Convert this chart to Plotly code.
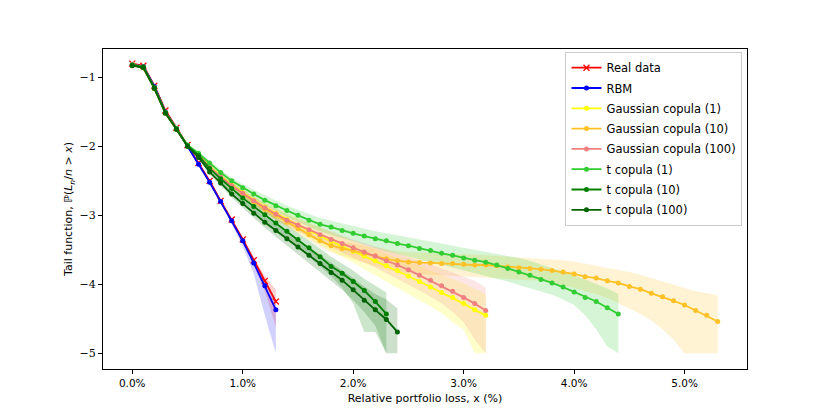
import plotly.graph_objects as go

# x grid values (relative loss in %)
x_real = [0.0, 0.1, 0.2, 0.3, 0.4, 0.5, 0.6, 0.7, 0.8, 0.9, 1.0, 1.1, 1.2, 1.3]
real = [-0.80, -0.83, -1.12, -1.48, -1.73, -1.98, -2.24, -2.50, -2.79, -3.06, -3.35, -3.65, -3.95, -4.25]
real_up = [-0.79, -0.82, -1.11, -1.47, -1.72, -1.97, -2.23, -2.48, -2.77, -3.03, -3.31, -3.60, -3.88, -4.08]
real_lo = [-0.81, -0.84, -1.13, -1.49, -1.74, -1.99, -2.25, -2.52, -2.81, -3.09, -3.40, -3.72, -4.10, -4.62]

rbm = [-0.82, -0.84, -1.13, -1.50, -1.74, -1.99, -2.26, -2.52, -2.80, -3.08, -3.37, -3.69, -4.02, -4.37]
rbm_up = [-0.81, -0.83, -1.12, -1.49, -1.73, -1.98, -2.25, -2.51, -2.78, -3.05, -3.33, -3.64, -3.93, -4.22]
rbm_lo = [-0.83, -0.85, -1.14, -1.51, -1.75, -2.00, -2.27, -2.54, -2.83, -3.12, -3.45, -3.85, -4.45, -5.00]

x_g1 = [round(i * 0.1, 1) for i in range(33)]
g1 = [-0.82, -0.86, -1.16, -1.52, -1.75, -1.99, -2.12, -2.29, -2.43, -2.56, -2.67, -2.78, -2.88, -2.97,
      -3.06, -3.14, -3.22, -3.30, -3.38, -3.45, -3.52, -3.59, -3.66, -3.73, -3.80, -3.88, -3.96, -4.04,
      -4.12, -4.19, -4.28, -4.37, -4.45]
g1_up = [-0.81, -0.85, -1.15, -1.51, -1.74, -1.98, -2.10, -2.26, -2.39, -2.51, -2.62, -2.72, -2.81, -2.89,
         -2.97, -3.04, -3.11, -3.18, -3.25, -3.31, -3.37, -3.43, -3.49, -3.55, -3.61, -3.67, -3.73, -3.80,
         -3.86, -3.92, -3.99, -4.06, -4.14]
g1_lo = [-0.83, -0.87, -1.17, -1.53, -1.76, -2.00, -2.14, -2.32, -2.47, -2.61, -2.73, -2.85, -2.96, -3.06,
         -3.15, -3.24, -3.33, -3.42, -3.51, -3.60, -3.68, -3.77, -3.86, -3.95, -4.04, -4.13, -4.22, -4.32,
         -4.42, -4.55, -4.66, -5.00, -5.00]

x_g10 = [round(i * 0.1, 1) for i in range(54)]
g10 = [-0.82, -0.86, -1.16, -1.52, -1.75, -1.99, -2.13, -2.30, -2.45, -2.57, -2.69, -2.80, -2.91, -3.00,
       -3.10, -3.19, -3.28, -3.37, -3.44, -3.48, -3.51, -3.55, -3.59, -3.63, -3.66, -3.675, -3.685, -3.69,
       -3.70, -3.70, -3.71, -3.72, -3.72, -3.73, -3.75, -3.76, -3.77, -3.78, -3.80, -3.82, -3.85, -3.89,
       -3.91, -3.95, -3.98, -4.03, -4.07, -4.13, -4.18, -4.24, -4.30, -4.38, -4.45, -4.54]
g10_up = [-0.81, -0.85, -1.15, -1.51, -1.74, -1.98, -2.11, -2.27, -2.41, -2.53, -2.64, -2.75, -2.85, -2.94,
          -3.03, -3.12, -3.20, -3.28, -3.34, -3.38, -3.41, -3.44, -3.47, -3.50, -3.52, -3.53, -3.54, -3.55,
          -3.55, -3.56, -3.56, -3.57, -3.57, -3.58, -3.59, -3.60, -3.61, -3.62, -3.63, -3.65, -3.67, -3.70,
          -3.72, -3.75, -3.78, -3.82, -3.86, -3.91, -3.96, -4.01, -4.06, -4.10, -4.13, -4.16]
g10_lo = [-0.83, -0.87, -1.17, -1.53, -1.76, -2.00, -2.15, -2.33, -2.49, -2.62, -2.74, -2.86, -2.97, -3.07,
          -3.16, -3.26, -3.36, -3.46, -3.54, -3.59, -3.63, -3.68, -3.73, -3.78, -3.82, -3.84, -3.85, -3.86,
          -3.87, -3.88, -3.89, -3.90, -3.90, -3.91, -3.92, -3.93, -3.94, -3.95, -3.98, -4.01, -4.05, -4.10,
          -4.14, -4.20, -4.27, -4.35, -4.43, -4.53, -4.65, -4.80, -5.00, -5.00, -5.00, -5.00]

x_g100 = [round(i * 0.1, 1) for i in range(33)]
g100 = [-0.81, -0.85, -1.15, -1.51, -1.74, -1.99, -2.13, -2.30, -2.44, -2.57, -2.68, -2.79, -2.89, -2.98,
        -3.07, -3.14, -3.21, -3.28, -3.35, -3.41, -3.47, -3.53, -3.59, -3.66, -3.72, -3.79, -3.87, -3.94,
        -4.02, -4.10, -4.19, -4.28, -4.38]
g100_up = [-0.80, -0.84, -1.14, -1.50, -1.73, -1.98, -2.11, -2.27, -2.40, -2.52, -2.63, -2.73, -2.83, -2.91,
           -2.99, -3.06, -3.12, -3.18, -3.24, -3.29, -3.35, -3.40, -3.45, -3.50, -3.55, -3.60, -3.66, -3.71,
           -3.77, -3.83, -3.89, -3.95, -4.05]
g100_lo = [-0.82, -0.86, -1.16, -1.52, -1.75, -2.00, -2.15, -2.33, -2.48, -2.62, -2.74, -2.85, -2.96, -3.06,
           -3.15, -3.23, -3.31, -3.39, -3.47, -3.54, -3.61, -3.68, -3.76, -3.84, -3.92, -4.00, -4.09, -4.18,
           -4.28, -4.40, -4.55, -4.80, -5.00]

x_t1 = [round(i * 0.1, 1) for i in range(45)]
t1 = [-0.82, -0.85, -1.15, -1.51, -1.74, -1.98, -2.10, -2.24, -2.38, -2.50, -2.60, -2.69, -2.78, -2.86,
      -2.93, -3.00, -3.07, -3.13, -3.17, -3.22, -3.26, -3.30, -3.34, -3.37, -3.41, -3.44, -3.48, -3.51,
      -3.55, -3.58, -3.62, -3.65, -3.68, -3.72, -3.77, -3.82, -3.87, -3.93, -3.98, -4.04, -4.11, -4.19,
      -4.25, -4.34, -4.43]
t1_up = [-0.81, -0.84, -1.14, -1.50, -1.73, -1.97, -2.08, -2.21, -2.34, -2.45, -2.55, -2.63, -2.71, -2.79,
         -2.86, -2.92, -2.98, -3.04, -3.08, -3.12, -3.16, -3.20, -3.23, -3.26, -3.29, -3.32, -3.35, -3.38,
         -3.41, -3.44, -3.47, -3.50, -3.52, -3.55, -3.58, -3.62, -3.66, -3.71, -3.76, -3.81, -3.87, -3.93,
         -3.99, -4.06, -4.14]
t1_lo = [-0.83, -0.86, -1.16, -1.52, -1.75, -1.99, -2.12, -2.27, -2.42, -2.55, -2.66, -2.76, -2.85, -2.94,
         -3.02, -3.09, -3.16, -3.23, -3.28, -3.33, -3.38, -3.43, -3.48, -3.52, -3.56, -3.60, -3.64, -3.68,
         -3.72, -3.76, -3.80, -3.84, -3.87, -3.91, -3.96, -4.01, -4.06, -4.10, -4.15, -4.22, -4.30, -4.45,
         -4.65, -4.90, -5.00]

x_t10 = [round(i * 0.1, 1) for i in range(24)]
t10 = [-0.82, -0.85, -1.15, -1.51, -1.75, -1.99, -2.13, -2.32, -2.47, -2.61, -2.75, -2.87, -2.99, -3.11,
       -3.23, -3.35, -3.47, -3.60, -3.74, -3.84, -3.96, -4.09, -4.25, -4.43]
t10_up = [-0.81, -0.84, -1.14, -1.50, -1.74, -1.98, -2.11, -2.29, -2.43, -2.56, -2.69, -2.80, -2.92, -3.03,
          -3.14, -3.25, -3.36, -3.48, -3.60, -3.70, -3.80, -3.92, -4.02, -4.12]
t10_lo = [-0.83, -0.86, -1.16, -1.52, -1.76, -2.00, -2.15, -2.35, -2.51, -2.66, -2.81, -2.94, -3.07, -3.20,
          -3.33, -3.46, -3.60, -3.74, -3.88, -4.05, -4.28, -4.69, -4.69, -5.00]

x_t100 = [round(i * 0.1, 1) for i in range(25)]
t100 = [-0.83, -0.86, -1.16, -1.52, -1.75, -2.00, -2.16, -2.37, -2.53, -2.69, -2.83, -2.97, -3.10, -3.22,
        -3.34, -3.46, -3.58, -3.70, -3.83, -3.94, -4.08, -4.23, -4.37, -4.51, -4.69]
t100_up = [-0.82, -0.85, -1.15, -1.51, -1.74, -1.99, -2.14, -2.34, -2.49, -2.64, -2.77, -2.90, -3.02, -3.13,
           -3.24, -3.35, -3.46, -3.57, -3.69, -3.79, -3.91, -4.03, -4.14, -4.22, -4.35]
t100_lo = [-0.84, -0.87, -1.17, -1.53, -1.76, -2.01, -2.18, -2.40, -2.57, -2.74, -2.89, -3.04, -3.18, -3.31,
           -3.44, -3.57, -3.70, -3.82, -3.95, -4.08, -4.23, -4.40, -4.60, -5.00, -5.00]

x_ticks = [0, 1, 2, 3, 4, 5]
x_ticklabels = ["0.0%", "1.0%", "2.0%", "3.0%", "4.0%", "5.0%"]
y_ticks = [-1, -2, -3, -4, -5]
y_ticklabels = ["\u22121", "\u22122", "\u22123", "\u22124", "\u22125"]

series = [
    ("Real data", x_real, real, real_up, real_lo, "#ff0000", "rgba(255,0,0,0.18)", "x"),
    ("RBM", x_real, rbm, rbm_up, rbm_lo, "#0000ff", "rgba(0,0,255,0.18)", "circle"),
    ("Gaussian copula (1)", x_g1, g1, g1_up, g1_lo, "#ffff00", "rgba(255,255,0,0.2)", "circle"),
    ("Gaussian copula (10)", x_g10, g10, g10_up, g10_lo, "#ffc125", "rgba(255,193,37,0.2)", "circle"),
    ("Gaussian copula (100)", x_g100, g100, g100_up, g100_lo, "#f08080", "rgba(240,128,128,0.2)", "circle"),
    ("t copula (1)", x_t1, t1, t1_up, t1_lo, "#32cd32", "rgba(50,205,50,0.2)", "circle"),
    ("t copula (10)", x_t10, t10, t10_up, t10_lo, "#008000", "rgba(0,128,0,0.2)", "circle"),
    ("t copula (100)", x_t100, t100, t100_up, t100_lo, "#006400", "rgba(0,100,0,0.2)", "circle"),
]

fig = go.Figure()
for name, xs, ys, up, lo, col, fcol, sym in series:
    fig.add_trace(go.Scatter(x=xs, y=lo, mode="lines", line=dict(width=0, color=fcol),
                             showlegend=False, hoverinfo="skip"))
    fig.add_trace(go.Scatter(x=xs, y=up, mode="lines", line=dict(width=0, color=fcol),
                             fill="tonexty", fillcolor=fcol, showlegend=False, hoverinfo="skip"))
for name, xs, ys, up, lo, col, fcol, sym in series:
    if sym == "x":
        mk = dict(symbol="x-thin", size=6, line=dict(width=1.3, color=col), color=col)
    else:
        mk = dict(symbol="circle", size=5, color=col)
    fig.add_trace(go.Scatter(x=xs, y=ys, mode="lines+markers", name=name, legendgroup=name,
                             line=dict(color=col, width=1.8), marker=mk))

# The page body adds an 8 px offset; margins compensate for it.
fig.update_layout(
    width=830, height=415,
    margin=dict(l=95, r=91, t=41, b=54),
    paper_bgcolor="white", plot_bgcolor="white",
    font=dict(family="DejaVu Sans", size=11, color="black"),
    showlegend=True,
    legend=dict(x=0.993, y=0.99, xanchor="right", yanchor="top", traceorder="grouped",
                bgcolor="rgba(255,255,255,0.8)", bordercolor="#cccccc", borderwidth=1,
                font=dict(size=11.5), tracegroupgap=1.3, itemwidth=30),
)
fig.update_xaxes(range=[-0.265, 5.565], tickvals=x_ticks, ticktext=x_ticklabels, automargin=False,
                 showline=True, linecolor="black", linewidth=1, mirror=True,
                 ticks="outside", ticklen=4, tickcolor="black", showgrid=False, zeroline=False,
                 tickfont=dict(size=10.5),
                 title=dict(text="Relative portfolio loss, x (%)", font=dict(size=11), standoff=6))
fig.update_yaxes(range=[-5.228, -0.588], tickvals=y_ticks, ticktext=y_ticklabels, automargin=False,
                 showline=True, linecolor="black", linewidth=1, mirror=True,
                 ticks="outside", ticklen=4, tickcolor="black", showgrid=False, zeroline=False,
                 tickfont=dict(size=11, family="DejaVu Serif"),
                 title=dict(text="Tail function, \u2119(<i>L<sub>n</sub></i>/<i>n</i> > <i>x</i>)",
                            font=dict(size=11), standoff=4))

fig.write_html("out.html")
